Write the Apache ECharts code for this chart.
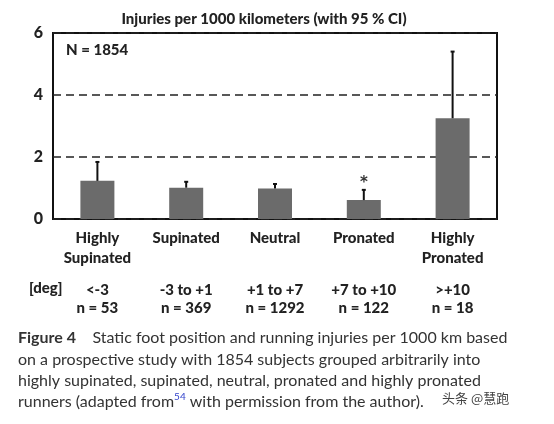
<!DOCTYPE html>
<html>
<head>
<meta charset="utf-8">
<script src="https://cdn.jsdelivr.net/npm/echarts@6/dist/echarts.min.js"></script>
<style>
html,body{margin:0;padding:0;background:#fff;}
#c{width:554px;height:424px;}
</style>
</head>
<body>
<div id="c"></div>
<script>
var categories = ['Highly\nSupinated', 'Supinated', 'Neutral', 'Pronated', 'Highly\nPronated'];
var degRanges = ['<-3', '-3 to +1', '+1 to +7', '+7 to +10', '>+10'];
var groupN = [53, 369, 1292, 122, 18];
var injuryRate = [1.23, 1.01, 0.98, 0.61, 3.25];
var ciUpper = [1.84, 1.20, 1.13, 0.94, 5.40];
var sigMarks = ['', '', '', '*', ''];
var yTicks = [0, 2, 4, 6];

var chart = echarts.init(document.getElementById('c'));
var F = 'Lato, "Open Sans", sans-serif';
var W = 900;

function labelFormatter(v, i) {
  var lines = categories[i].split('\n');
  var s = '{a|' + lines[0] + '}\n{a|' + (lines[1] || ' ') + '}\n{g|}\n';
  s += '{b|' + degRanges[i] + '}\n{b|n = ' + groupN[i] + '}';
  return s;
}

var errData = injuryRate.map(function (v, i) { return [i, v, ciUpper[i]]; });

chart.setOption({
  animation: false,
  backgroundColor: '#fff',
  title: {
    text: 'Injuries per 1000 kilometers (with 95 % CI)',
    left: 259, top: 7, textAlign: 'center',
    textStyle: { fontFamily: F, fontWeight: W, fontSize: 15, color: '#222' }
  },
  grid: { left: 53, right: 57, top: 33, bottom: 205, show: true, borderColor: '#111', borderWidth: 2, backgroundColor: 'transparent' },
  xAxis: {
    type: 'category', data: categories,
    axisLine: { show: false }, axisTick: { show: false },
    axisLabel: {
      margin: 9, interval: 0, formatter: labelFormatter,
      rich: {
        a: { fontFamily: F, fontWeight: W, fontSize: 15, color: '#222', lineHeight: 20 },
        g: { lineHeight: 13, fontSize: 2 },
        b: { fontFamily: F, fontWeight: W, fontSize: 15, color: '#222', lineHeight: 18 }
      }
    }
  },
  yAxis: {
    type: 'value', min: 0, max: 6, interval: 2,
    axisLine: { show: false }, axisTick: { show: false },
    axisLabel: {
      margin: 10, fontFamily: F, fontWeight: W, fontSize: 16, color: '#222',
      formatter: function (v) { return yTicks.indexOf(v) >= 0 ? String(v) : ''; }
    },
    splitLine: { show: true, lineStyle: { color: '#222', width: 1.5, type: [8, 5] } }
  },
  series: [
    {
      type: 'bar', data: injuryRate, barWidth: 34,
      itemStyle: { color: '#6b6b6b' }
    },
    {
      type: 'custom', data: errData, z: 5,
      renderItem: function (params, api) {
        var x = api.value(0);
        var lo = api.coord([x, api.value(1)]);
        var hi = api.coord([x, api.value(2)]);
        var mark = sigMarks[params.dataIndex];
        var children = [
          { type: 'line', shape: { x1: lo[0], y1: lo[1], x2: hi[0], y2: hi[1] }, style: { stroke: '#111', lineWidth: 2 } },
          { type: 'line', shape: { x1: hi[0] - 2, y1: hi[1], x2: hi[0] + 2, y2: hi[1] }, style: { stroke: '#111', lineWidth: 2 } }
        ];
        if (mark) {
          children.push({ type: 'text', style: { text: mark, x: hi[0], y: hi[1] - 7, align: 'center', verticalAlign: 'middle', fontFamily: '"DejaVu Sans", sans-serif', fontWeight: 'bold', fontSize: 15, fill: '#333' } });
        }
        return { type: 'group', children: children };
      }
    }
  ],
  graphic: [
    { type: 'text', left: 66, top: 43, style: { text: 'N = 1854', fontFamily: F, fontWeight: W, fontSize: 15, fill: '#222' } },
    { type: 'text', left: 29, top: 281, style: { text: '[deg]', fontFamily: F, fontWeight: W, fontSize: 15, fill: '#222' } },
    { type: 'text', left: 18, top: 330, style: {
      text: '{f|Figure 4}    Static foot position and running injuries per 1000 km based',
      fontFamily: F, fontSize: 16, fill: '#333',
      rich: { f: { fontFamily: F, fontWeight: 'bold', fontSize: 16, fill: '#333' } } } },
    { type: 'text', left: 18, top: 352, style: { text: 'on a prospective study with 1854 subjects grouped arbitrarily into', fontFamily: F, fontSize: 16, fill: '#333' } },
    { type: 'text', left: 18, top: 373, style: { text: 'highly supinated, supinated, neutral, pronated and highly pronated', fontFamily: F, fontSize: 16, fill: '#333' } },
    { type: 'text', left: 18, top: 392, style: {
      text: 'runners (adapted from{s|54} with permission from the author).',
      fontFamily: F, fontSize: 16, fill: '#333',
      rich: { s: { fontFamily: F, fontSize: 10, fill: '#3344cc', verticalAlign: 'top', padding: [0, 0, 10, 0] } } } },
    { type: 'text', left: 442, top: 392, style: { text: '头条 @慧跑', fontFamily: '"Noto Sans CJK SC"', fontSize: 13, fill: '#444' } }
  ]
});
</script>
</body>
</html>
